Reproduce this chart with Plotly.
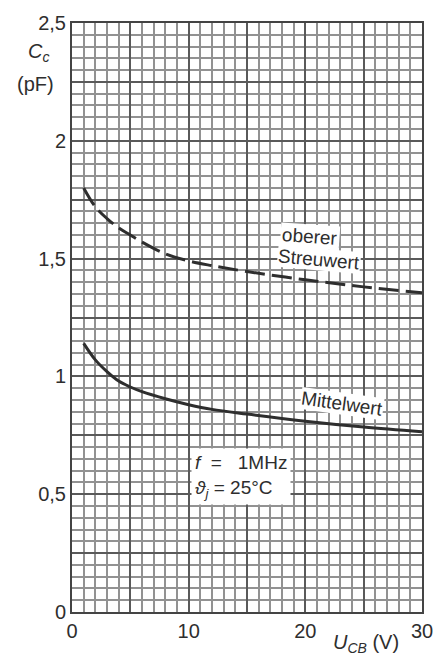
import plotly.graph_objects as go

# Data
u_cb = [1, 2, 3, 4, 5, 6, 8, 10, 12, 15, 20, 25, 30]
c_upper = [1.80, 1.72, 1.67, 1.63, 1.60, 1.57, 1.52, 1.49, 1.47, 1.445, 1.41, 1.38, 1.355]
c_mean = [1.14, 1.07, 1.02, 0.98, 0.955, 0.935, 0.905, 0.88, 0.86, 0.84, 0.81, 0.785, 0.765]

x_tickvals = [0, 10, 20, 30]
x_ticktext = ["0", "10", "20", "30"]
y_tickvals = [0, 0.5, 1, 1.5, 2, 2.5]
y_ticktext = ["0", "0,5", "1", "1,5", "2", "2,5"]

ink = "#2e2e2e"
font = "Liberation Sans, Arial, sans-serif"
major = "#5a5a5a"
minorc = "#929292"

fig = go.Figure()
# invisible trace to anchor the overlay axes carrying the 5 V / 0.25 pF grid
fig.add_trace(go.Scatter(x=[0, 30], y=[0, 2.5], xaxis="x2", yaxis="y2", mode="lines",
                         line=dict(width=0), showlegend=False, hoverinfo="skip"))
fig.add_trace(go.Scatter(x=u_cb, y=c_upper, mode="lines", line=dict(color=ink, width=3, dash="20px,7px", shape="spline"),
                         showlegend=False, hoverinfo="skip"))
fig.add_trace(go.Scatter(x=u_cb, y=c_mean, mode="lines", line=dict(color=ink, width=3, shape="spline"),
                         showlegend=False, hoverinfo="skip"))

fig.update_layout(
    width=445, height=665,
    margin=dict(l=72, r=16, t=18, b=53),
    paper_bgcolor="white", plot_bgcolor="white",
    font=dict(family=font, size=20, color=ink),
    xaxis=dict(range=[0, 30], tickvals=x_tickvals, ticktext=x_ticktext, showgrid=True,
               gridcolor=major, gridwidth=1.8, zeroline=False, showline=True, linecolor="#444", linewidth=2,
               mirror=True, ticks="", ticklen=0, tickfont=dict(size=20),
               minor=dict(dtick=1, showgrid=True, gridcolor=minorc, gridwidth=1.5)),
    yaxis=dict(range=[0, 2.5], tickvals=y_tickvals, ticktext=y_ticktext, showgrid=True,
               gridcolor=major, gridwidth=1.8, zeroline=False, showline=True, linecolor="#444", linewidth=2,
               mirror=True, ticks="", ticklen=0, tickfont=dict(size=20),
               minor=dict(dtick=0.05, showgrid=True, gridcolor=minorc, gridwidth=1.5)),
    xaxis2=dict(range=[0, 30], dtick=5, overlaying="x", showgrid=True, gridcolor=major, gridwidth=1.8,
                showticklabels=False, zeroline=False, ticks=""),
    yaxis2=dict(range=[0, 2.5], dtick=0.25, overlaying="y", showgrid=True, gridcolor=major, gridwidth=1.8,
                showticklabels=False, zeroline=False, ticks=""),
)

ann = []
# axis titles
ann.append(dict(x=38, y=48, text="<i>C</i><sub><i>c</i></sub>", font=dict(size=20)))
ann.append(dict(x=35, y=80, text="(pF)", font=dict(size=20)))
ann.append(dict(x=372, y=644, text="<i>U</i><sub><i>CB</i></sub> (V)", font=dict(size=20)))
for a in ann:
    a["xref"] = "paper"
    a["yref"] = "paper"
    a["showarrow"] = False
    a["x"] = (a["x"] - 72) / (445 - 72 - 16)
    a["y"] = (665 - 53 - a["y"]) / (665 - 18 - 53)
    a["xanchor"] = "center"
    a["yanchor"] = "middle"

# curve labels (data coords)
ann.append(dict(x=20.4, y=1.595, text="oberer", showarrow=False, textangle=4, bgcolor="white",
                font=dict(size=19), xanchor="center", yanchor="middle", borderpad=1))
ann.append(dict(x=21.2, y=1.497, text="Streuwert", showarrow=False, textangle=5, bgcolor="white",
                font=dict(size=19), xanchor="center", yanchor="middle", borderpad=0))
ann.append(dict(x=23.1, y=0.885, text="Mittelwert", showarrow=False, textangle=8, bgcolor="white",
                font=dict(size=19), xanchor="center", yanchor="middle", borderpad=0))
ann.append(dict(x=14.5, y=0.575, text="<i>f</i>  =   1MHz<br><i>ϑ</i><sub><i>j</i></sub> = 25°C", showarrow=False,
                align="left", bgcolor="white", font=dict(size=19), xanchor="center", yanchor="middle", borderpad=3))
fig.update_layout(annotations=ann)

fig.write_html("out.html")
